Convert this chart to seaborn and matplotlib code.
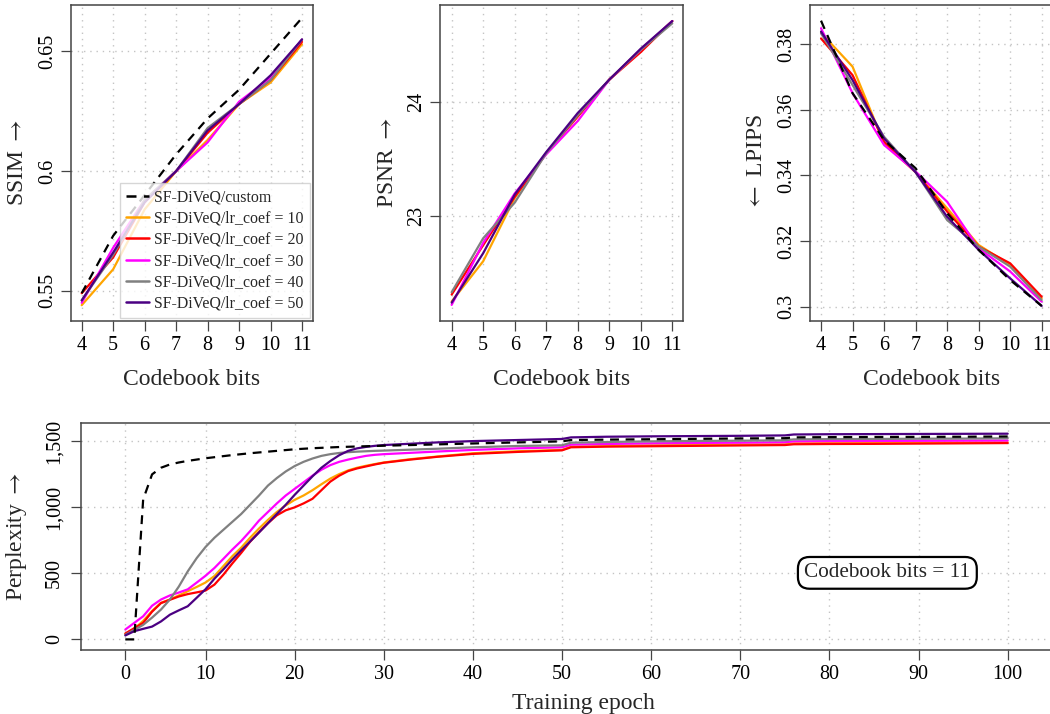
import numpy as np
import pandas as pd
import matplotlib
matplotlib.use("Agg")
import matplotlib.pyplot as plt
import seaborn as sns

# ---------------- data ----------------
BITS = [4, 5, 6, 7, 8, 9, 10, 11]

METHODS = ["SF-DiVeQ/custom", "SF-DiVeQ/lr_coef = 10", "SF-DiVeQ/lr_coef = 20",
           "SF-DiVeQ/lr_coef = 30", "SF-DiVeQ/lr_coef = 40", "SF-DiVeQ/lr_coef = 50"]
COLORS = ["black", "#FFA500", "#FF0000", "#FF00FF", "#808080", "#4B0082"]

ssim_custom = [0.549, 0.573, 0.590, 0.607, 0.622, 0.634, 0.649, 0.664]
ssim_lr10 = [0.544, 0.559, 0.584, 0.600, 0.613, 0.628, 0.637, 0.653]
ssim_lr20 = [0.549, 0.564, 0.587, 0.600, 0.616, 0.628, 0.638, 0.654]
ssim_lr30 = [0.545, 0.568, 0.588, 0.600, 0.612, 0.629, 0.639, 0.655]
ssim_lr40 = [0.546, 0.565, 0.588, 0.600, 0.618, 0.628, 0.638, 0.655]
ssim_lr50 = [0.546, 0.566, 0.587, 0.600, 0.617, 0.628, 0.640, 0.655]

psnr_lr10 = [22.26, 22.61, 23.16, 23.55, 23.87, 24.19, 24.45, 24.70]
psnr_lr20 = [22.32, 22.75, 23.17, 23.55, 23.87, 24.19, 24.43, 24.70]
psnr_lr30 = [22.23, 22.77, 23.20, 23.54, 23.83, 24.19, 24.45, 24.70]
psnr_lr40 = [22.34, 22.81, 23.12, 23.55, 23.88, 24.19, 24.45, 24.68]
psnr_lr50 = [22.25, 22.68, 23.19, 23.56, 23.90, 24.19, 24.46, 24.70]

lpips_custom = [0.3872, 0.3651, 0.3508, 0.3422, 0.3285, 0.3173, 0.3081, 0.3002]
lpips_lr10 = [0.3835, 0.3732, 0.3498, 0.3410, 0.3300, 0.3188, 0.3127, 0.3025]
lpips_lr20 = [0.3818, 0.3706, 0.3503, 0.3410, 0.3290, 0.3183, 0.3132, 0.3030]
lpips_lr30 = [0.3849, 0.3651, 0.3493, 0.3412, 0.3320, 0.3178, 0.3107, 0.3015]
lpips_lr40 = [0.3834, 0.3676, 0.3518, 0.3410, 0.3264, 0.3183, 0.3122, 0.3020]
lpips_lr50 = [0.3839, 0.3691, 0.3513, 0.3410, 0.3274, 0.3173, 0.3086, 0.3002]

EPOCHS = [1, 2, 3, 4, 5, 6, 7, 8, 9, 10, 11, 12, 13, 14, 15, 16, 17, 18, 19, 20,
          21, 22, 23, 24, 25, 26, 27, 28, 29, 30, 33, 36, 40, 45, 50, 51, 55, 60,
          65, 70, 75, 76, 80, 85, 90, 95, 100]

ppl_custom = [0, 0, 1060, 1250, 1300, 1325, 1340, 1352, 1362, 1372, 1380, 1388, 1396,
              1403, 1410, 1416, 1422, 1428, 1434, 1440, 1444, 1448, 1451, 1454, 1457,
              1459, 1461, 1463, 1465, 1467, 1472, 1477, 1484, 1492, 1500, 1510, 1513,
              1516, 1519, 1522, 1524, 1530, 1532, 1533, 1534, 1535, 1537]
ppl_lr10 = [40, 80, 140, 215, 277, 302, 333, 365, 397, 431, 480, 555, 630, 695, 770,
            840, 905, 965, 1015, 1057, 1090, 1130, 1175, 1218, 1252, 1280, 1300, 1315,
            1328, 1340, 1365, 1385, 1410, 1425, 1435, 1460, 1465, 1470, 1473, 1476,
            1478, 1485, 1487, 1488, 1490, 1491, 1493]
ppl_lr20 = [45, 85, 125, 210, 275, 300, 325, 343, 356, 370, 415, 490, 575, 655, 740,
            812, 880, 940, 978, 1000, 1030, 1065, 1130, 1195, 1240, 1275, 1295, 1310,
            1325, 1338, 1362, 1383, 1405, 1420, 1432, 1455, 1460, 1463, 1466, 1469,
            1472, 1478, 1480, 1481, 1483, 1485, 1487]
ppl_lr30 = [75, 125, 175, 255, 302, 333, 355, 379, 430, 482, 541, 610, 680, 745, 820,
            900, 965, 1030, 1090, 1140, 1190, 1240, 1285, 1320, 1345, 1362, 1377, 1390,
            1398, 1403, 1413, 1423, 1435, 1447, 1455, 1475, 1480, 1485, 1488, 1490,
            1493, 1500, 1502, 1503, 1504, 1505, 1506]
ppl_lr40 = [35, 72, 110, 165, 226, 302, 400, 515, 615, 700, 770, 830, 890, 950, 1020,
            1090, 1165, 1222, 1272, 1313, 1345, 1370, 1390, 1403, 1412, 1418, 1422,
            1425, 1428, 1430, 1437, 1444, 1455, 1465, 1470, 1490, 1495, 1500, 1503,
            1505, 1508, 1515, 1517, 1518, 1520, 1521, 1523]
ppl_lr50 = [30, 62, 80, 97, 136, 187, 220, 251, 315, 380, 460, 530, 605, 675, 742,
            810, 880, 950, 1020, 1095, 1165, 1235, 1300, 1351, 1395, 1428, 1447, 1458,
            1466, 1472, 1482, 1492, 1502, 1510, 1518, 1530, 1535, 1538, 1540, 1542,
            1545, 1552, 1554, 1555, 1556, 1557, 1558]


def long_frame(x, series, names, xname, yname):
    rows = []
    for name, vals in zip(names, series):
        for xv, yv in zip(x, vals):
            rows.append({xname: xv, yname: yv, "method": name})
    return pd.DataFrame(rows)


df_ssim = long_frame(BITS, [ssim_custom, ssim_lr10, ssim_lr20, ssim_lr30, ssim_lr40, ssim_lr50],
                     METHODS, "bits", "value")
df_psnr = long_frame(BITS, [psnr_lr10, psnr_lr20, psnr_lr30, psnr_lr40, psnr_lr50],
                     METHODS[1:], "bits", "value")
df_lpips = long_frame(BITS, [lpips_custom, lpips_lr10, lpips_lr20, lpips_lr30, lpips_lr40, lpips_lr50],
                      METHODS, "bits", "value")
df_ppl = long_frame(EPOCHS, [ppl_custom, ppl_lr10, ppl_lr20, ppl_lr30, ppl_lr40, ppl_lr50],
                    METHODS, "epoch", "value")

# ---------------- style ----------------
sns.set_style("white")
plt.rcParams["font.family"] = ["Liberation Serif", "DejaVu Serif"]
plt.rcParams["mathtext.fontset"] = "stix"
plt.rcParams["axes.unicode_minus"] = False

PALETTE = dict(zip(METHODS, COLORS))
DASHES = {m: "" for m in METHODS}
DASHES[METHODS[0]] = (4, 3)
DRAW_ORDER = METHODS[1:] + METHODS[:1]

FRAME = "#444444"
GRID = "#c4c4c4"
TICK_FS = 14.5
LABEL_FS = 17

fig = plt.figure(figsize=(10.5, 7.14), dpi=100)
W, H = 1050.0, 714.0


def px_axes(left, top, right, bottom):
    return fig.add_axes([left / W, 1 - bottom / H, (right - left) / W, (bottom - top) / H])


ax1 = px_axes(71, 5, 313, 321)
ax2 = px_axes(440, 5, 683.3, 321)
ax3 = px_axes(810, 5, 1052.7, 321)
ax4 = px_axes(80.5, 423, 1087, 649.5)


def draw(ax, df, x, order):
    sns.lineplot(data=df, x=x, y="value", hue="method", style="method",
                 hue_order=order, style_order=order, palette=PALETTE, dashes=DASHES,
                 estimator=None, errorbar=None, sort=False, linewidth=1.6,
                 legend=False, ax=ax)


draw(ax1, df_ssim, "bits", DRAW_ORDER)
draw(ax2, df_psnr, "bits", METHODS[1:])
draw(ax3, df_lpips, "bits", DRAW_ORDER)
draw(ax4, df_ppl, "epoch", DRAW_ORDER)


def style_axes(ax, xticks, xlabels, yticks, ylabels, ypad):
    ax.set_xticks(xticks, labels=xlabels)
    ax.set_yticks(yticks, labels=ylabels)
    ax.set_axisbelow(True)
    ax.grid(True, linestyle=(0, (1, 3.5)), color=GRID, linewidth=1.0)
    for sp in ax.spines.values():
        sp.set_visible(True)
        sp.set_color(FRAME)
        sp.set_linewidth(1.1)
    ax.tick_params(axis="both", direction="out", length=7.5, width=0.9, color=FRAME,
                   labelsize=TICK_FS, labelcolor="black")
    ax.tick_params(axis="x", pad=3.6, bottom=True)
    ax.tick_params(axis="y", pad=ypad, left=True, labelrotation=90)
    plt.setp(ax.get_yticklabels(), va="center")


style_axes(ax1, BITS, [str(b) for b in BITS], [0.55, 0.60, 0.65], ["0.55", "0.6", "0.65"], 2.5)
style_axes(ax2, BITS, [str(b) for b in BITS], [23, 24], ["23", "24"], 2.5)
style_axes(ax3, BITS, [str(b) for b in BITS], [0.30, 0.32, 0.34, 0.36, 0.38],
           ["0.3", "0.32", "0.34", "0.36", "0.38"], 2.5)
epoch_ticks = [1, 10, 20, 30, 40, 50, 60, 70, 80, 90, 100]
epoch_labels = ["0", "10", "20", "30", "40", "50", "60", "70", "80", "90", "100"]
style_axes(ax4, epoch_ticks, epoch_labels, [0, 500, 1000, 1500],
           ["0", "500", "1,000", "1,500"], 4.5)

ax1.set_xlim(3.66, 11.35)
ax1.set_ylim(0.5374, 0.6694)
ax2.set_xlim(3.63, 11.35)
ax2.set_ylim(22.09, 24.84)
ax3.set_xlim(3.65, 11.35)
ax3.set_ylim(0.2956, 0.392)
ax4.set_xlim(-4.03, 108.9)
ax4.set_ylim(-76.5, 1639)


def set_labels(ax, xlabel, ylabel, xy_x, xy_y, ylab_y=0.5):
    ax.set_xlabel(xlabel, fontsize=LABEL_FS)
    ax.set_ylabel(ylabel, fontsize=LABEL_FS)
    ax.xaxis.label.set_va("baseline")
    ax.yaxis.label.set_va("baseline")
    ax.xaxis.set_label_coords(0.5, xy_y)
    ax.yaxis.set_label_coords(xy_x, ylab_y)


RIGHT = r"$\rightarrow$"
LEFT = r"$\leftarrow$"
set_labels(ax1, "Codebook bits", "SSIM " + RIGHT, -0.198, -0.2025)
set_labels(ax2, "Codebook bits", "PSNR " + RIGHT, -0.193, -0.2025)
set_labels(ax3, "Codebook bits", LEFT + " LPIPS", -0.198, -0.2025)
set_labels(ax4, "Training epoch", "Perplexity " + RIGHT, -0.0581, -0.262, ylab_y=0.5)

# legend in the SSIM panel, custom run listed first
handles = []
for m, c in zip(METHODS, COLORS):
    h = matplotlib.lines.Line2D([], [], color=c, linewidth=1.8)
    if m == METHODS[0]:
        h.set_dashes((4, 3))
    handles.append(h)
leg = ax1.legend(handles, METHODS, loc="lower right", fontsize=11.4, frameon=True,
                 fancybox=False, edgecolor="#cccccc", framealpha=0.8,
                 borderpad=0.4, labelspacing=0.33, handlelength=1.45,
                 handletextpad=0.3, borderaxespad=0.2)
leg.get_frame().set_linewidth(1.0)

ax4.text(86.5, 504, "Codebook bits = 11", ha="center", va="center", fontsize=15.3,
         bbox=dict(boxstyle="round,pad=0.3,rounding_size=0.55", fc="white",
                   ec="black", lw=1.6))

fig.savefig("out.png", dpi=100)
